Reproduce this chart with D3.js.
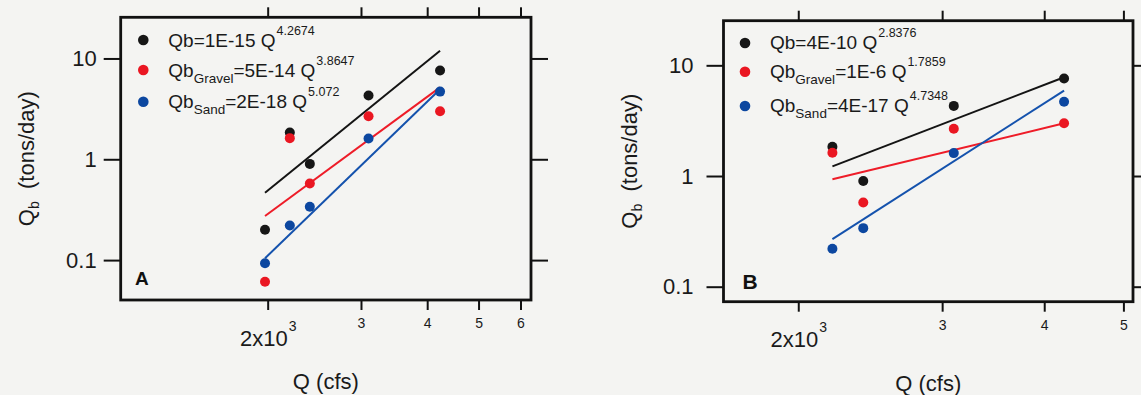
<!DOCTYPE html>
<html>
<head>
<meta charset="utf-8">
<script src="https://cdn.jsdelivr.net/npm/d3@7"></script>
<style>
  body { margin: 0; background: #f4f4f2; }
  svg { display: block; font-family: "Liberation Sans", Arial, Helvetica, sans-serif; }
</style>
</head>
<body>
<svg id="chart" width="1141" height="395"></svg>
<script>
// Discharge (cfs) of each sampled event
const discharge = [1977, 2202, 2402, 3100, 4230];
// Measured bedload transport (tons/day)
const bedloadTotal  = [0.20, 1.84, 0.90, 4.30, 7.60];
const bedloadGravel = [0.061, 1.62, 0.576, 2.67, 3.00];
const bedloadSand   = [0.093, 0.22, 0.338, 1.61, 4.69];

// Power-law rating curves Qb = a * Q^b
// Panel A uses all events, panel B leaves out the lowest-flow event
const fitCoefA = [4e-15, 5e-14, 2e-18];
const fitExpA  = [4.2674, 3.8647, 5.072];
const fitCoefB = [4e-10, 1e-6, 4e-17];
const fitExpB  = [2.8376, 1.7859, 4.7348];

// Legend wording
const legendCoefA = ["1E-15", "5E-14", "2E-18"];
const legendCoefB = ["4E-10", "1E-6", "4E-17"];
const legendSub   = ["", "Gravel", "Sand"];

// Axis ticks
const xTicksA = [2000, 3000, 4000, 5000, 6000];
const xTicksB = [2000, 3000, 4000, 5000];
const yTicks = [0.1, 1, 10];
const yTickLabels = ["0.1", "1", "10"];

const seriesValues = [bedloadTotal, bedloadGravel, bedloadSand];
const dotColors  = ["#161616", "#ea1722", "#0c47a0"];
const lineColors = ["#141414", "#ee1c28", "#1452ad"];

const panels = [
  {
    name: "A", idx: [0, 1, 2, 3, 4], coef: fitCoefA, exp: fitExpA, legend: legendCoefA,
    xTicks: xTicksA, xDomain: [1056, 6280], yDomain: [0.0402, 25.6],
    left: 120.7, right: 531, top: 17.3, bottom: 300, yPad: 7,
    legendDotX: 143.3, legendTextX: 168.3, legendDotY: [40, 70, 101.7], legendBase: [46.5, 76.5, 108],
    tagX: 135, tagY: 285, tagSize: 19,
    yTitleX: 34, xTitleY: 389
  },
  {
    name: "B", idx: [1, 2, 3, 4], coef: fitCoefB, exp: fitExpB, legend: legendCoefB,
    xTicks: xTicksB, xDomain: [1620, 5137], yDomain: [0.0732, 25.3],
    left: 723.5, right: 1133, top: 20.7, bottom: 301.7, yPad: 13,
    legendDotX: 745, legendTextX: 770, legendDotY: [43, 71.7, 106], legendBase: [49, 78, 111.5],
    tagX: 742.5, tagY: 289, tagSize: 21,
    yTitleX: 637, xTitleY: 391
  }
];

const svg = d3.select("#chart");

panels.forEach(p => {
  const x = d3.scaleLog().domain(p.xDomain).range([p.left, p.right]);
  const y = d3.scaleLog().domain(p.yDomain).range([p.bottom, p.top]);
  const g = svg.append("g").attr("class", "panel-" + p.name);

  // Bottom axis with labelled ticks
  const gx = g.append("g")
    .attr("transform", `translate(0,${p.bottom})`)
    .call(d3.axisBottom(x).tickValues(p.xTicks).tickSize(10).tickPadding(8)
      .tickFormat(d => d === 2000 ? "" : String(d / 1000)));
  gx.select(".domain").remove();
  gx.selectAll(".tick text").style("font-size", "14px").attr("fill", "#1a1a1a");
  const t2k = gx.selectAll(".tick").filter(d => d === 2000)
    .append("text")
    .attr("y", 45.5)
    .attr("fill", "#1a1a1a")
    .attr("text-anchor", "middle")
    .style("font-size", "22px");
  t2k.append("tspan").text("2x10");
  t2k.append("tspan").attr("dy", -15).attr("dx", 1).style("font-size", "14px").text("3");

  // Top axis, ticks only
  const gt = g.append("g")
    .attr("transform", `translate(0,${p.top})`)
    .call(d3.axisTop(x).tickValues(p.xTicks).tickSize(10).tickFormat(""));
  gt.select(".domain").remove();

  // Left axis with labels
  const gl = g.append("g")
    .attr("transform", `translate(${p.left},0)`)
    .call(d3.axisLeft(y).tickValues(yTicks).tickSize(17).tickPadding(p.yPad)
      .tickFormat((d, i) => yTickLabels[i]));
  gl.select(".domain").remove();
  gl.selectAll(".tick text").style("font-size", "22px").attr("fill", "#1a1a1a");

  // Right axis, ticks only
  const gr = g.append("g")
    .attr("transform", `translate(${p.right},0)`)
    .call(d3.axisRight(y).tickValues(yTicks).tickSize(17).tickFormat(""));
  gr.select(".domain").remove();

  g.selectAll(".tick line").attr("stroke", "#111").attr("stroke-width", 2);

  // Plot frame
  g.append("rect")
    .attr("x", p.left).attr("y", p.top)
    .attr("width", p.right - p.left).attr("height", p.bottom - p.top)
    .attr("fill", "none").attr("stroke", "#111").attr("stroke-width", 2.8);

  // Rating curves between the lowest and highest flow of the panel
  const qRange = d3.extent(p.idx.map(i => discharge[i]));
  const line = d3.line().x(d => x(d[0])).y(d => y(d[1]));
  [0, 1, 2].forEach(s => {
    const pts = qRange.map(q => [q, p.coef[s] * Math.pow(q, p.exp[s])]);
    g.append("path").datum(pts)
      .attr("d", line)
      .attr("fill", "none")
      .attr("stroke", lineColors[s])
      .attr("stroke-width", 2);
  });

  // Measured points
  [0, 1, 2].forEach(s => {
    g.append("g").selectAll("circle")
      .data(p.idx)
      .join("circle")
      .attr("cx", i => x(discharge[i]))
      .attr("cy", i => y(seriesValues[s][i]))
      .attr("r", 5)
      .attr("fill", dotColors[s]);
  });

  // Legend with fitted equations
  [0, 1, 2].forEach(s => {
    g.append("circle")
      .attr("cx", p.legendDotX).attr("cy", p.legendDotY[s])
      .attr("r", 5.3).attr("fill", dotColors[s]);
    const t = g.append("text")
      .attr("x", p.legendTextX).attr("y", p.legendBase[s])
      .attr("fill", "#1a1a1a")
      .style("font-size", "19px");
    t.append("tspan").text("Qb");
    if (legendSub[s]) {
      t.append("tspan").attr("dy", 6).style("font-size", "13.5px").text(legendSub[s]);
    }
    t.append("tspan").attr("dy", legendSub[s] ? -6 : 0).text("=" + p.legend[s] + " Q");
    t.append("tspan").attr("dy", -12).attr("dx", 1).style("font-size", "12.5px").text(String(p.exp[s]));
  });

  // Panel tag
  g.append("text")
    .attr("x", p.tagX).attr("y", p.tagY)
    .attr("fill", "#111")
    .style("font-size", p.tagSize + "px").style("font-weight", "bold")
    .text(p.name);

  // Axis titles
  g.append("text")
    .attr("x", (p.left + p.right) / 2).attr("y", p.xTitleY)
    .attr("text-anchor", "middle").attr("fill", "#1a1a1a")
    .style("font-size", "22px")
    .text("Q (cfs)");

  const yt = g.append("text")
    .attr("transform", `translate(${p.yTitleX},${(p.top + p.bottom) / 2}) rotate(-90)`)
    .attr("text-anchor", "middle").attr("fill", "#1a1a1a")
    .attr("xml:space", "preserve")
    .style("font-size", "22px");
  yt.append("tspan").text("Q");
  yt.append("tspan").attr("dy", 5).style("font-size", "14px").text("b");
  yt.append("tspan").attr("dy", -5).text("  (tons/day)");
});
</script>
</body>
</html>
